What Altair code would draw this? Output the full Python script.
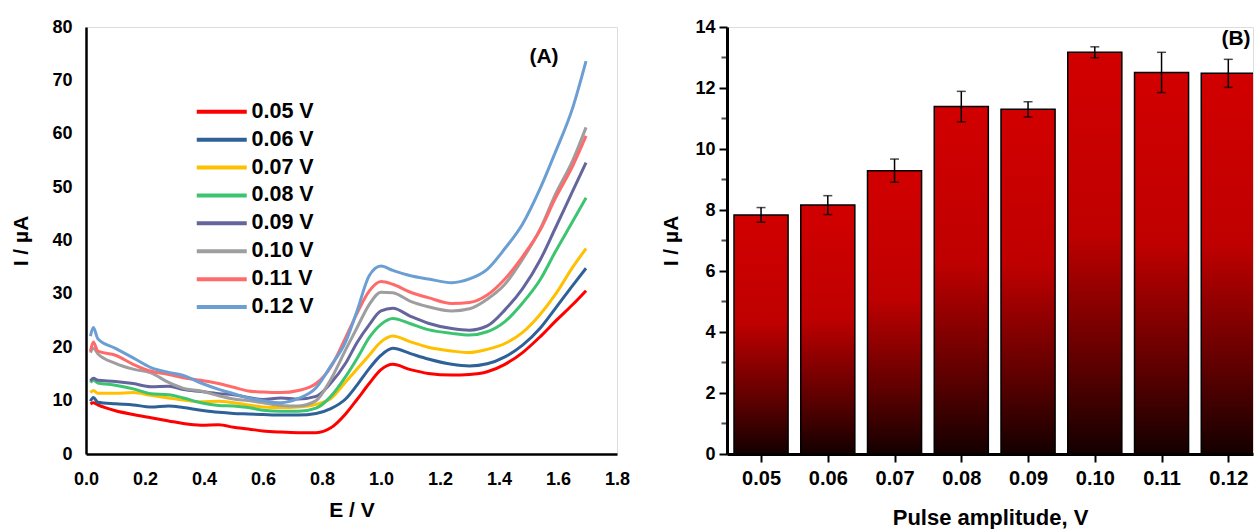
import altair as alt
import pandas as pd

FONT = "Liberation Sans"

# ---------------- Panel A data ----------------
E = [0.015, 0.025, 0.04, 0.10, 0.16, 0.22, 0.28, 0.33, 0.39, 0.45, 0.50, 0.55, 0.60,
     0.66, 0.72, 0.78, 0.83, 0.88, 0.92, 0.96, 1.00, 1.04, 1.10, 1.16, 1.24, 1.30,
     1.36, 1.42, 1.48, 1.54, 1.59, 1.65, 1.695]

amps = ["0.05 V", "0.06 V", "0.07 V", "0.08 V", "0.09 V", "0.10 V", "0.11 V", "0.12 V"]
colors = ["#ff0000", "#2f6199", "#ffc000", "#3dc471", "#64659c", "#9e9e9e", "#ff6b6b", "#6b9ed2"]

i005 = [9.4, 9.6, 9.2, 8.1, 7.4, 6.8, 6.2, 5.7, 5.4, 5.5, 5.0, 4.7, 4.3,
        4.1, 4.0, 4.0, 4.9, 7.5, 10.3, 13.2, 15.8, 16.8, 15.8, 15.1, 14.8, 14.9,
        15.4, 16.8, 19.0, 22.0, 24.8, 28.0, 30.6]
i006 = [9.9, 10.6, 9.7, 9.4, 9.2, 8.8, 9.0, 8.7, 8.2, 7.8, 7.6, 7.5, 7.4,
        7.3, 7.3, 7.6, 8.5, 10.3, 13.0, 16.0, 18.5, 19.8, 18.8, 17.8, 16.8, 16.5,
        16.9, 18.2, 20.4, 23.6, 27.2, 31.6, 34.8]
i007 = [11.5, 11.9, 11.4, 11.4, 11.5, 11.0, 10.5, 10.1, 9.8, 9.9, 9.6, 9.2, 8.8,
        8.7, 8.8, 9.3, 10.4, 13.5, 16.0, 18.5, 21.0, 22.1, 21.0, 20.0, 19.3, 19.0,
        19.6, 20.7, 22.8, 26.2, 29.8, 35.0, 38.5]
i008 = [13.4, 13.8, 13.3, 12.9, 12.2, 11.3, 11.1, 10.5, 9.6, 9.1, 9.0, 8.7, 8.2,
        8.0, 8.0, 8.6, 10.8, 14.5, 18.0, 21.8, 24.3, 25.4, 24.4, 23.3, 22.6, 22.3,
        22.9, 24.8, 28.3, 32.7, 37.8, 43.6, 48.0]
i009 = [13.7, 14.2, 13.8, 13.6, 13.2, 12.6, 12.7, 12.1, 11.7, 11.3, 11.1, 10.6, 10.2,
        10.5, 10.3, 10.8, 13.3, 17.0, 21.0, 24.2, 26.8, 27.3, 25.8, 24.5, 23.5, 23.2,
        24.0, 27.0, 31.0, 36.4, 42.2, 49.3, 54.6]
i010 = [19.0, 19.8, 18.8, 17.0, 15.9, 15.2, 13.4, 12.3, 11.8, 10.9, 10.3, 10.0, 9.6,
        9.1, 9.0, 10.0, 14.0, 19.5, 23.8, 28.0, 30.3, 30.2, 28.6, 27.6, 26.8, 27.2,
        29.0, 31.8, 36.5, 42.2, 48.5, 55.0, 61.2]
i011 = [19.3, 21.0, 19.3, 18.5, 16.8, 15.5, 14.9, 14.3, 13.8, 13.2, 12.5, 11.8, 11.6,
        11.5, 11.9, 13.2, 16.3, 21.8, 26.5, 30.5, 32.3, 31.8, 30.3, 29.3, 28.2, 28.4,
        29.8, 32.8, 37.0, 42.0, 47.8, 54.0, 59.6]
i012 = [22.1, 23.7, 21.6, 19.8, 18.0, 16.2, 15.3, 14.7, 13.3, 12.1, 11.3, 10.5, 10.0,
        9.6, 10.4, 12.4, 16.5, 21.0, 27.0, 33.4, 35.2, 34.4, 33.4, 32.8, 32.1, 32.8,
        34.6, 38.5, 43.1, 49.8, 56.4, 64.9, 73.6]
series = [i005, i006, i007, i008, i009, i010, i011, i012]

# ---------------- Panel B data ----------------
pulse = [0.05, 0.06, 0.07, 0.08, 0.09, 0.10, 0.11, 0.12]
bar_I = [7.84, 8.16, 9.29, 11.39, 11.30, 13.17, 12.51, 12.48]
bar_err = [0.24, 0.31, 0.38, 0.50, 0.25, 0.18, 0.66, 0.46]
minor = [1, 3, 5, 7, 9, 11, 13]

rows = []
for name, vals in zip(amps, series):
    for e, v in zip(E, vals):
        rows.append({"E": e, "I": v, "amp": name})
dfA = pd.DataFrame(rows)

axis_common = dict(labelFont=FONT, titleFont=FONT, labelFontWeight="bold",
                   titleFontWeight="bold", labelColor="black", titleColor="black",
                   domainColor="black", tickColor="black", grid=False, labelFlush=False)

lines = alt.Chart(dfA).mark_line(strokeWidth=3, interpolate="monotone").encode(
    x=alt.X("E:Q", scale=alt.Scale(domain=[0, 1.8], nice=False),
            axis=alt.Axis(values=[0, 0.2, 0.4, 0.6, 0.8, 1.0, 1.2, 1.4, 1.6, 1.8],
                          format=".1f", title="E / V", ticks=False, domainWidth=2.5,
                          labelFontSize=18, titleFontSize=21, labelPadding=16,
                          titlePadding=11, **axis_common)),
    y=alt.Y("I:Q", scale=alt.Scale(domain=[0, 80], nice=False),
            axis=alt.Axis(values=list(range(0, 81, 10)), title="I / µA", ticks=False,
                          domainWidth=2.5, labelFontSize=18, titleFontSize=21,
                          labelPadding=14, titlePadding=20, **axis_common)),
    color=alt.Color("amp:N", scale=alt.Scale(domain=amps, range=colors),
                    legend=alt.Legend(title=None, orient="none", legendX=125, legendY=74,
                                      symbolType="M-5,0H5", symbolSize=100,
                                      symbolStrokeWidth=4, labelOffset=19,
                                      labelFontSize=21.5, labelFont=FONT,
                                      labelFontWeight="bold", labelColor="black",
                                      rowPadding=4.9, padding=0)),
)

labA = alt.Chart(pd.DataFrame({"t": ["(A)"]})).mark_text(
    font=FONT, fontSize=21, fontWeight="bold", color="black"
).encode(text="t:N", x=alt.value(458), y=alt.value(30))

left = alt.layer(lines, labA).properties(width=531, height=427)

# ---------------- Panel B ----------------
dfB = pd.DataFrame({"amp": pulse, "I": bar_I, "err": bar_err})
xs = alt.Scale(domain=[0.0449, 0.1237], nice=False, zero=False)
ys = alt.Scale(domain=[0, 14], nice=False)

base = alt.Chart(dfB).transform_calculate(
    x1="datum.amp - 0.00405", x2="datum.amp + 0.00405",
    lo="datum.I - datum.err", hi="datum.I + datum.err", zero="0")

grad = alt.Gradient(
    gradient="linear",
    stops=[alt.GradientStop(color="#d20000", offset=0),
           alt.GradientStop(color="#bf0000", offset=0.45),
           alt.GradientStop(color="#600000", offset=0.77),
           alt.GradientStop(color="#140000", offset=1)],
    x1=0, x2=0, y1=0, y2=1)

xaxis = alt.Axis(values=pulse, format=".2f", title="Pulse amplitude, V",
                 tickSize=8, tickWidth=2, domainWidth=3, labelFontSize=20,
                 titleFontSize=22, labelPadding=6, titlePadding=19, **axis_common)
yaxis = alt.Axis(values=list(range(0, 15, 2)), title="I / µA", tickSize=8, tickWidth=2,
                 domainWidth=3, labelFontSize=18, titleFontSize=21, labelPadding=4,
                 titlePadding=13, **axis_common)

bars = base.mark_bar(clip=True, fill=grad, stroke="black", strokeWidth=1.5).encode(
    x=alt.X("x1:Q", scale=xs, axis=xaxis), x2="x2:Q",
    y=alt.Y("I:Q", scale=ys, axis=yaxis), y2="zero:Q")
err = base.mark_rule(color="black", strokeWidth=1.5).encode(
    x=alt.X("amp:Q", scale=xs, axis=xaxis), y=alt.Y("lo:Q", scale=ys, axis=yaxis), y2="hi:Q")
cap_hi = base.mark_tick(color="black", size=9, thickness=1.5, orient="horizontal").encode(
    x=alt.X("amp:Q", scale=xs, axis=xaxis), y=alt.Y("hi:Q", scale=ys, axis=yaxis))
cap_lo = base.mark_tick(color="black", size=9, thickness=1.5, orient="horizontal").encode(
    x=alt.X("amp:Q", scale=xs, axis=xaxis), y=alt.Y("lo:Q", scale=ys, axis=yaxis))
minor_ticks = alt.Chart(pd.DataFrame({"m": minor})).mark_tick(
    color="black", size=5, thickness=2, orient="horizontal").encode(
    y=alt.Y("m:Q", scale=ys, axis=yaxis), x=alt.value(-3))
labB = alt.Chart(pd.DataFrame({"t": ["(B)"]})).mark_text(
    font=FONT, fontSize=21, fontWeight="bold", color="black"
).encode(text="t:N", x=alt.value(509), y=alt.value(12))

right = alt.layer(bars, err, cap_hi, cap_lo, minor_ticks, labB).properties(width=526, height=427)

chart = alt.hconcat(left, right, spacing=110, bounds="flush").properties(
    padding={"left": 10, "top": 17, "right": 0, "bottom": 0}
).configure_view(stroke=None).configure(background="white")

chart.save("out.html", embed_options={"renderer": "svg", "actions": False})
